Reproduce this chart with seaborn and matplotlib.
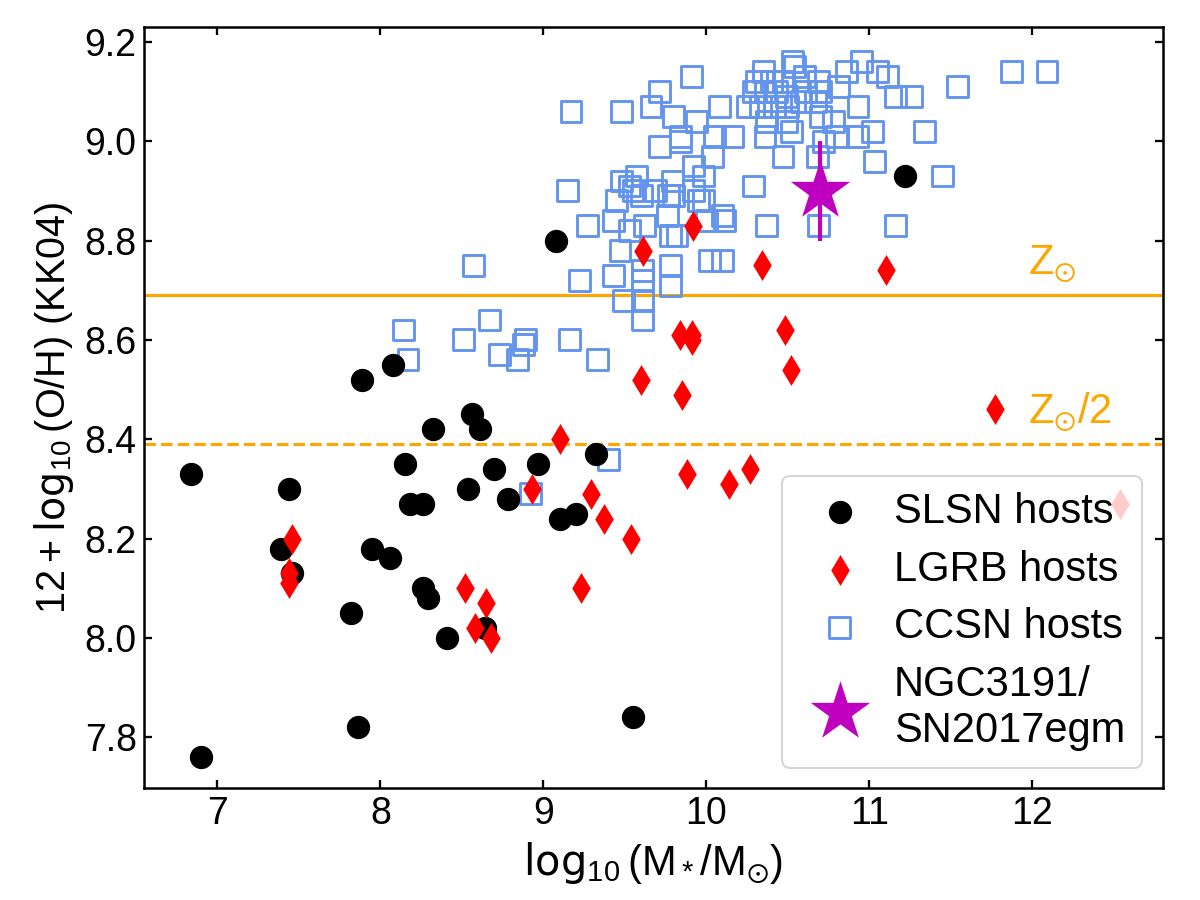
import matplotlib
matplotlib.use('Agg')
import matplotlib.pyplot as plt
import seaborn as sns

# SLSN hosts (log stellar mass, 12+log(O/H))
slsn_mass = [6.84, 6.90, 7.39, 7.44, 7.46, 7.82, 7.86, 7.89, 7.95, 8.06, 8.08,
             8.15, 8.18, 8.26, 8.26, 8.29, 8.32, 8.41, 8.54, 8.56, 8.61, 8.64,
             8.70, 8.78, 8.97, 9.08, 9.10, 9.20, 9.32, 9.55, 11.22]
slsn_oh = [8.33, 7.76, 8.18, 8.30, 8.13, 8.05, 7.82, 8.52, 8.18, 8.16, 8.55,
           8.35, 8.27, 8.27, 8.10, 8.08, 8.42, 8.00, 8.30, 8.45, 8.42, 8.02,
           8.34, 8.28, 8.35, 8.80, 8.24, 8.25, 8.37, 7.84, 8.93]

# LGRB hosts
lgrb_mass = [7.44, 7.44, 7.46, 8.52, 8.58, 8.65, 8.68, 8.93, 9.10, 9.23, 9.29,
             9.37, 9.54, 9.60, 9.61, 9.84, 9.85, 9.88, 9.91, 9.91, 9.92, 10.14,
             10.27, 10.34, 10.48, 10.52, 11.10, 11.77, 12.54]
lgrb_oh = [8.13, 8.11, 8.20, 8.10, 8.02, 8.07, 8.00, 8.30, 8.40, 8.10, 8.29,
           8.24, 8.20, 8.52, 8.78, 8.61, 8.49, 8.33, 8.61, 8.60, 8.83, 8.31,
           8.34, 8.75, 8.62, 8.54, 8.74, 8.46, 8.27]

# CCSN hosts
ccsn_mass = [8.14, 8.17, 8.51, 8.57, 8.67, 8.73, 8.84, 8.88, 8.89, 8.92, 9.15,
             9.16, 9.22, 9.27, 9.33, 9.40, 9.17,
             9.43, 9.43, 9.47, 9.45, 9.48, 9.48, 9.49, 9.53, 9.53, 9.55, 9.57,
             9.60, 9.61, 9.61, 9.61, 9.61, 9.62, 9.66, 9.69, 9.71, 9.71, 9.76,
             9.77, 9.78, 9.78, 9.78, 9.79, 9.80, 9.80, 9.82, 9.84, 9.84, 9.91,
             9.92, 9.92, 9.94, 9.95, 9.98, 9.98, 10.00, 10.02, 10.04, 10.05,
             10.08, 10.10, 10.10, 10.11, 10.16,
             10.25, 10.29, 10.29, 10.31, 10.33, 10.35, 10.36, 10.36, 10.37,
             10.37, 10.40, 10.42, 10.43, 10.47, 10.47, 10.49, 10.49, 10.50,
             10.52, 10.53, 10.54, 10.58, 10.60, 10.61, 10.67, 10.68, 10.69,
             10.69, 10.70, 10.70, 10.72, 10.78, 10.80, 10.81, 10.86, 10.93,
             10.93, 10.95, 11.02, 11.03, 11.05, 11.11, 11.16, 11.16, 11.26,
             11.34, 11.45, 11.54, 11.87, 12.09]
ccsn_oh = [8.62, 8.56, 8.60, 8.75, 8.64, 8.57, 8.56, 8.59, 8.60, 8.29, 8.90,
           8.60, 8.72, 8.83, 8.56, 8.36, 9.06,
           8.84, 8.73, 8.78, 8.88, 8.92, 9.06, 8.68, 8.82, 8.91, 8.90, 8.93,
           8.89, 8.74, 8.72, 8.68, 8.64, 8.83, 9.07, 8.90, 9.10, 8.99, 8.85,
           8.89, 8.81, 8.75, 8.71, 8.92, 9.05, 8.89, 8.81, 9.01, 9.00, 9.13,
           8.95, 8.90, 9.04, 8.88, 8.93, 8.88, 8.84, 8.76, 8.97, 9.01,
           9.07, 8.76, 8.85, 8.84, 9.01,
           9.07, 8.91, 9.10, 9.12, 9.07, 9.14, 9.10, 9.01, 9.04,
           8.83, 9.12, 9.07, 9.10, 9.12, 8.97, 9.09, 9.04, 9.07,
           9.02, 9.16, 9.15, 9.08, 9.13, 9.10, 9.08, 8.97, 9.12,
           8.83, 9.10, 9.05, 9.00, 9.04, 9.01, 9.11, 9.14, 9.07,
           9.01, 9.16, 9.02, 8.96, 9.14, 9.13, 9.09, 8.83, 9.09,
           9.02, 8.93, 9.11, 9.14, 9.14]

# NGC3191 / SN2017egm
sn_mass = [10.70]
sn_oh = [8.90]
sn_err = [0.10]

z_sun = 8.69
z_half = 8.39

sns.set_style('ticks')
plt.rcParams['font.family'] = ['Liberation Sans', 'DejaVu Sans']
plt.rcParams['mathtext.default'] = 'regular'
for key in ['text.color', 'axes.labelcolor', 'xtick.color', 'ytick.color',
            'axes.edgecolor']:
    plt.rcParams[key] = 'black'

fig, ax = plt.subplots(figsize=(8, 6), dpi=150)
fig.subplots_adjust(left=0.12, right=0.969, bottom=0.124, top=0.97)

sns.scatterplot(x=slsn_mass, y=slsn_oh, ax=ax, marker='o', color='black',
                s=125, linewidth=0, label='SLSN hosts', zorder=3)
sns.scatterplot(x=lgrb_mass, y=lgrb_oh, ax=ax, marker='d', color='red',
                s=110, linewidth=0, label='LGRB hosts', zorder=4)
sns.scatterplot(x=ccsn_mass, y=ccsn_oh, ax=ax, marker='s', facecolor='none',
                edgecolor='cornflowerblue', s=100, linewidth=1.4,
                label='CCSN hosts', zorder=2)
sns.scatterplot(x=sn_mass, y=sn_oh, ax=ax, marker='*', color='m', s=900,
                linewidth=0, label='NGC3191/\nSN2017egm', zorder=5)
ax.errorbar(sn_mass, sn_oh, yerr=sn_err, fmt='none', ecolor='m',
            elinewidth=2, zorder=6)

ax.axhline(z_sun, color='orange', lw=1.5, zorder=1)
ax.axhline(z_half, color='orange', lw=1.5, ls='--', zorder=1)
ax.text(11.97, z_sun + 0.02, r'$Z_{\odot}$', color='orange', fontsize=20,
        ha='left', va='bottom')
ax.text(11.97, z_half + 0.02, r'$Z_{\odot}/2$', color='orange', fontsize=20,
        ha='left', va='bottom')

ax.set_xlim(6.55, 12.8)
ax.set_ylim(7.697, 9.23)
ax.set_xticks([7, 8, 9, 10, 11, 12])
ax.set_yticks([7.8, 8.0, 8.2, 8.4, 8.6, 8.8, 9.0, 9.2])
ax.tick_params(direction='in', top=True, right=True, labelsize=18,
               length=4, width=1.1)
for sp in ax.spines.values():
    sp.set_linewidth(1.2)

ax.set_xlabel(r'$\log_{10}(M_*/M_{\odot})$', fontsize=20)
ax.set_ylabel(r'$12+\log_{10}$(O/H) (KK04)', fontsize=19)

ax.legend(loc='lower right', fontsize=20, frameon=True, labelspacing=0.42,
          handletextpad=0.3)

fig.savefig('out.png', dpi=150)
